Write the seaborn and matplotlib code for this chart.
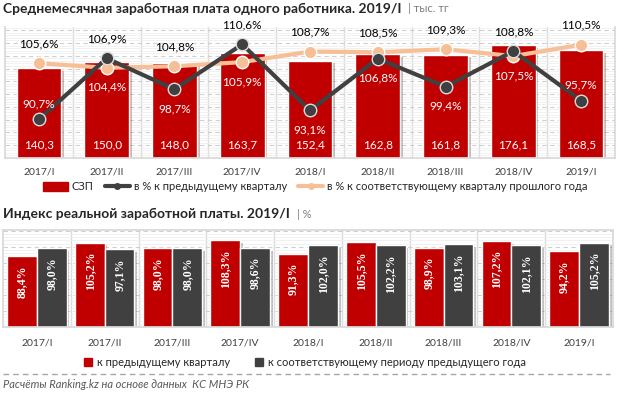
import numpy as np
import pandas as pd
import seaborn as sns
import matplotlib
matplotlib.use("Agg")
import matplotlib.pyplot as plt
from matplotlib.patches import Patch
from matplotlib.lines import Line2D
from matplotlib import patheffects as pe

# данные
quarters = ['2017/I', '2017/II', '2017/III', '2017/IV', '2018/I',
            '2018/II', '2018/III', '2018/IV', '2019/I']
szp = [140.3, 150.0, 148.0, 163.7, 152.4, 162.8, 161.8, 176.1, 168.5]
qoq = [90.7, 106.9, 98.7, 110.6, 93.1, 106.8, 99.4, 108.8, 95.7]
yoy = [105.6, 104.4, 104.8, 105.9, 108.7, 108.5, 109.3, 107.5, 110.5]
real_qoq = [88.4, 105.2, 98.0, 108.3, 91.3, 105.5, 98.9, 107.2, 94.2]
real_yoy = [98.0, 97.1, 98.0, 98.6, 102.0, 102.2, 103.1, 102.1, 105.2]

RED = '#C00000'
DARK = '#404040'
PEACH = '#F6BF96'
GRID = '#d9d9d9'

sns.set_theme(style='white')
plt.rcParams['font.family'] = ['Lato', 'DejaVu Sans']

def fmt(v, d=1):
    return f'{v:.{d}f}'.replace('.', ',')

shadow = [pe.SimplePatchShadow(offset=(2, -2), alpha=0.25), pe.Normal()]

W, H = 622, 396
fig = plt.figure(figsize=(W / 100, H / 100), dpi=100)

def px_axes(x0, y0, x1, y1):
    return fig.add_axes([x0 / W, 1 - y1 / H, (x1 - x0) / W, (y1 - y0) / H])

def hide_yticks(ax):
    ax.tick_params(axis='y', which='both', left=False, right=False,
                   labelleft=False, labelright=False)

def style_bg(ax, top, step):
    ax.set_yticks(np.arange(0, top, step))
    ax.set_yticks(np.arange(0, top, step / 5), minor=True)
    ax.yaxis.grid(True, which='major', color='#d0d0d0', ls=(0, (4, 3)), lw=0.8)
    ax.yaxis.grid(True, which='minor', color='#efefef', lw=0.6)
    ax.set_axisbelow(True)
    hide_yticks(ax)
    ax.tick_params(axis='x', length=0, labelsize=7.5, labelcolor=DARK)
    for s in ax.spines.values():
        s.set_color(GRID)
    for i in range(len(quarters) - 1):
        ax.axvline(i + 0.5, color=GRID, lw=1, zorder=0.5)
    ax.set_xlabel('')
    ax.set_ylabel('')

# ---------- верхний график ----------
ax = px_axes(5, 27, 615, 158)
sns.barplot(x=quarters, y=szp, color=RED, width=0.66, saturation=1, ax=ax)
for p in ax.patches:
    p.set_path_effects(shadow)
ax.set_ylim(0, 205)
style_bg(ax, 205, 20)
ax.spines['top'].set_visible(False)
ax.tick_params(axis='x', pad=7)
for i, v in enumerate(szp):
    ax.text(i, 20, fmt(v), ha='center', va='center', color='white', fontsize=8.5)

ax2 = ax.twinx()
hide_yticks(ax)  # twinx снова включает левые тики
xs = np.arange(len(quarters))
sns.lineplot(x=xs, y=yoy, color=PEACH, lw=3, marker='o', markersize=9,
             markeredgecolor='white', markeredgewidth=1, ax=ax2, zorder=3)
sns.lineplot(x=xs, y=qoq, color=DARK, lw=3, marker='o', markersize=9,
             markeredgecolor='#dddddd', markeredgewidth=1, ax=ax2, zorder=4)
ax2.set_ylim(80.5, 115.2)
ax2.set_xlim(-0.5, len(quarters) - 0.5)
ax2.axis('off')

low_above = [True, False, False, False, False, False, False, False, True]
for i in range(len(quarters)):
    hi, lo = max(qoq[i], yoy[i]), min(qoq[i], yoy[i])
    ax2.annotate(fmt(hi) + '%', (i, hi), xytext=(0, 14), textcoords='offset points',
                 ha='center', va='center', fontsize=8.5, color='black')
    off = 11.5 if low_above[i] else -14
    ax2.annotate(fmt(lo) + '%', (i, lo), xytext=(0, off), textcoords='offset points',
                 ha='center', va='center', fontsize=8.5, color='white', zorder=6)

t1 = fig.text(3 / W, 1 - 9 / H, 'Среднемесячная заработная плата одного работника. 2019/I',
              fontsize=10, fontweight='bold', va='center', ha='left')
ax.annotate('| тыс. тг', xy=(1, 0.5), xycoords=t1, xytext=(5, 0), textcoords='offset points',
            fontsize=8, color='#7f7f7f', va='center', annotation_clip=False)

h_top = [Patch(color=RED),
         Line2D([], [], color=DARK, lw=3, marker='o', markersize=4),
         Line2D([], [], color=PEACH, lw=3, marker='o', markersize=4)]
fig.legend(h_top, ['СЗП', 'в % к предыдущему кварталу',
                   'в % к соответствующему кварталу прошлого года'],
           loc='center', bbox_to_anchor=(315 / W, 1 - 187 / H), ncol=3, frameon=False,
           fontsize=8, handlelength=2.3, handleheight=0.8, columnspacing=1.0,
           handletextpad=0.3)

# ---------- нижний график ----------
lab_q = 'к предыдущему кварталу'
lab_y = 'к соответствующему периоду предыдущего года'
df = pd.DataFrame({
    'quarter': quarters * 2,
    'value': real_qoq + real_yoy,
    'series': [lab_q] * len(quarters) + [lab_y] * len(quarters),
})
bx = px_axes(3, 230, 613, 327)
sns.barplot(data=df, x='quarter', y='value', hue='series', palette=[RED, DARK],
            width=0.88, saturation=1, legend=False, ax=bx)
for p in bx.patches:
    p.set_path_effects(shadow)
bx.set_ylim(0, 121)
style_bg(bx, 121, 20)
bx.tick_params(axis='x', pad=8)
for cont, vals in zip(bx.containers, [real_qoq, real_yoy]):
    for bar, v in zip(cont, vals):
        bx.annotate(fmt(v) + '%', (bar.get_x() + bar.get_width() / 2, bar.get_height()),
                    xytext=(0, -6.5), textcoords='offset points', rotation=90,
                    ha='center', va='top', color='white', fontsize=8.5,
                    fontweight='bold', family='Liberation Serif')

t2 = fig.text(3 / W, 1 - 214 / H, 'Индекс реальной заработной платы. 2019/I',
              fontsize=10, fontweight='bold', va='center', ha='left')
bx.annotate('| %', xy=(1, 0.5), xycoords=t2, xytext=(5, 0), textcoords='offset points',
            fontsize=8, color='#7f7f7f', va='center', annotation_clip=False)

fig.legend([Patch(color=RED), Patch(color=DARK)], [lab_q, lab_y],
           loc='center', bbox_to_anchor=(305 / W, 1 - 362 / H), ncol=2, frameon=False,
           fontsize=8, handlelength=0.7, handleheight=0.7, columnspacing=2.2,
           handletextpad=0.5)

fig.add_artist(Line2D([3 / W, 610 / W], [1 - 374 / H] * 2, color='#a6a6a6',
                      ls=(0, (4, 3)), lw=1, transform=fig.transFigure))
fig.text(3 / W, 1 - 385 / H, 'Расчёты Ranking.kz на основе данных  КС МНЭ РК',
         fontsize=8, style='italic', color='#595959', va='center', ha='left')

fig.savefig('out.png', dpi=100)
